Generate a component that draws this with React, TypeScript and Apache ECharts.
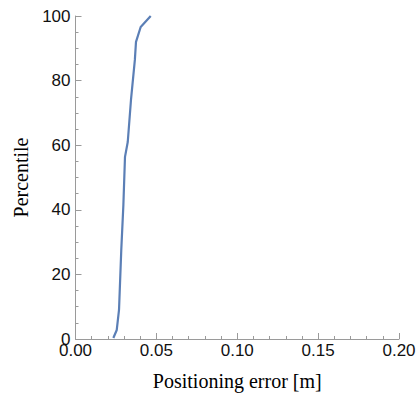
import React, { useEffect, useRef } from "react";
import * as echarts from "echarts";

const errorValues = [0.0234, 0.0255, 0.0269, 0.0283, 0.0296, 0.0306, 0.0323, 0.0343, 0.0367, 0.0374, 0.0403, 0.0465];
const percentileValues = [0.3, 2.8, 9, 27.6, 41.5, 56.4, 61, 74, 86.4, 92, 96.6, 100];

const xTicks = [0, 0.05, 0.1, 0.15, 0.2];
const yTicks = [0, 20, 40, 60, 80, 100];

export default function App() {
  const ref = useRef<HTMLDivElement>(null);
  useEffect(() => {
    if (!ref.current) return;
    const chart = echarts.init(ref.current, undefined, { renderer: "svg" });
    const axisColor = "#9a9a9a";
    chart.setOption({
      animation: false,
      backgroundColor: "#ffffff",
      grid: { left: 75.5, right: 20, top: 16, bottom: 55, containLabel: false, outerBoundsMode: "none" },
      xAxis: {
        type: "value",
        min: xTicks[0],
        max: xTicks[xTicks.length - 1],
        interval: 0.05,
        name: "Positioning error [m]",
        nameLocation: "middle",
        nameGap: 32,
        nameTextStyle: { fontFamily: "Liberation Serif", fontSize: 20, color: "#000" },
        axisLine: { show: true, lineStyle: { color: axisColor, width: 1 } },
        axisTick: { show: true, inside: true, length: 6, lineStyle: { color: axisColor } },
        minorTick: { show: true, splitNumber: 5, length: 3, lineStyle: { color: axisColor } },
        splitLine: { show: false },
        axisLabel: {
          fontFamily: "Liberation Sans",
          fontSize: 17,
          color: "#111",
          margin: 3,
          formatter: (v: number) => v.toFixed(2),
        },
      },
      yAxis: {
        type: "value",
        min: yTicks[0],
        max: yTicks[yTicks.length - 1],
        interval: 20,
        name: "Percentile",
        nameLocation: "middle",
        nameGap: 44,
        nameRotate: 90,
        nameTextStyle: { fontFamily: "Liberation Serif", fontSize: 20, color: "#000" },
        axisLine: { show: true, lineStyle: { color: axisColor, width: 1 } },
        axisTick: { show: true, inside: true, length: 6, lineStyle: { color: axisColor } },
        minorTick: { show: true, splitNumber: 4, length: 3, lineStyle: { color: axisColor } },
        splitLine: { show: false },
        axisLabel: {
          fontFamily: "Liberation Sans",
          fontSize: 17,
          color: "#111",
          margin: 5,
        },
      },
      series: [
        {
          type: "line",
          data: errorValues.map((x, i) => [x, percentileValues[i]]),
          showSymbol: false,
          lineStyle: { color: "#5b7fb6", width: 2.2 },
          itemStyle: { color: "#5b7fb6" },
        },
      ],
    });
    return () => chart.dispose();
  }, []);
  return (
    <div
      ref={ref}
      style={{ position: "absolute", left: 0, top: 0, width: 419, height: 394 }}
    />
  );
}
